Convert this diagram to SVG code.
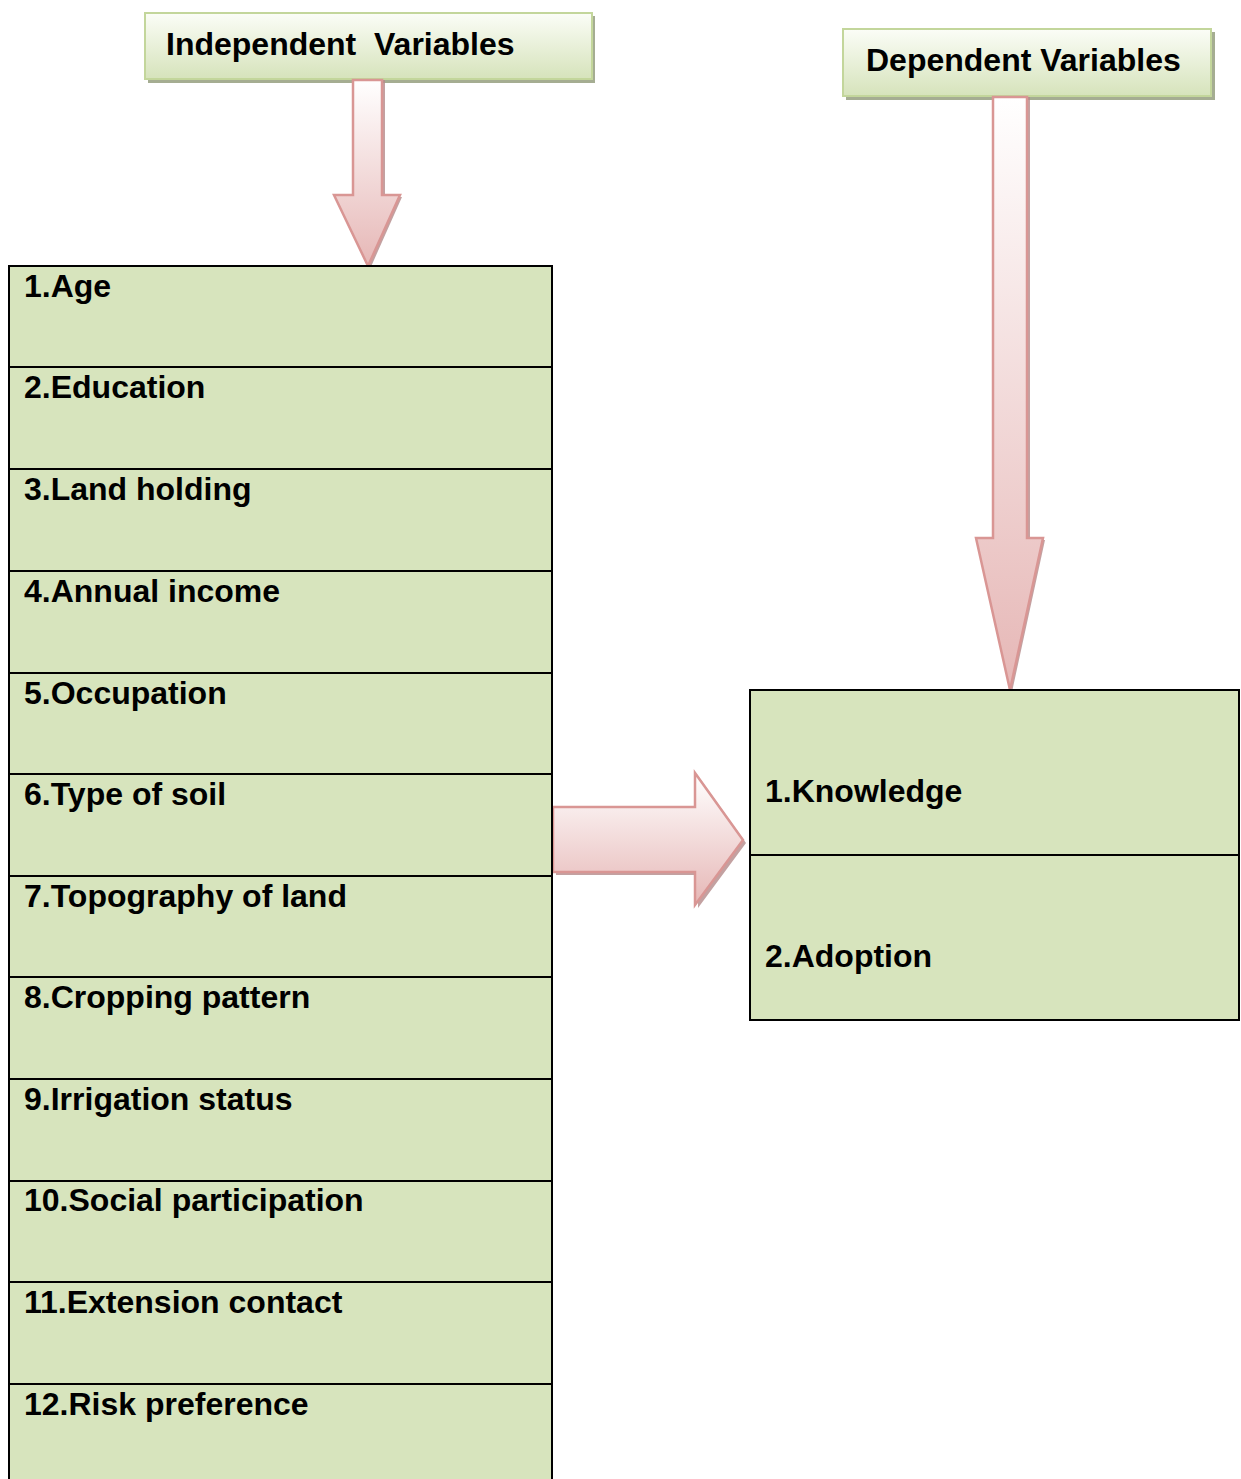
<svg xmlns="http://www.w3.org/2000/svg" width="1241" height="1479" viewBox="0 0 1241 1479">
<style>
text{font-family:"Liberation Sans",Arial,sans-serif;font-weight:bold;fill:#000;white-space:pre}
.hdr{font-size:32px}
.row{font-size:32px}
.cell{fill:#d7e4bd;stroke:#000;stroke-width:2}
.hbox{fill:url(#hg);stroke:#c3d69b;stroke-width:2}
.hsh{fill:#a5ad92}
.arr{fill:url(#ag);stroke:#d99694;stroke-width:2.5}
.arrh{fill:url(#agh);stroke:#d99694;stroke-width:2.5}
.ash{fill:#b48a89;opacity:0.8}
</style>
<defs>
<linearGradient id="hg" x1="0" y1="0" x2="0" y2="1">
<stop offset="0" stop-color="#fbfdf7"/>
<stop offset="1" stop-color="#d6e3bb"/>
</linearGradient>
<linearGradient id="ag" x1="0" y1="0" x2="0" y2="1">
<stop offset="0" stop-color="#ffffff"/>
<stop offset="1" stop-color="#e6b7b6"/>
</linearGradient>
<linearGradient id="agh" x1="0" y1="0" x2="0" y2="1">
<stop offset="0" stop-color="#ffffff"/>
<stop offset="1" stop-color="#e6b7b6"/>
</linearGradient>
</defs>
<rect width="1241" height="1479" fill="#fff"/>

<g id="independent-header">
<rect class="hsh" x="148" y="16" width="447" height="67"/>
<rect class="hbox" x="145" y="13" width="447" height="66"/>
<text class="hdr" x="166" y="55">Independent  Variables</text>
</g>

<g id="dependent-header">
<rect class="hsh" x="846" y="32" width="369" height="68"/>
<rect class="hbox" x="843" y="29" width="368" height="67"/>
<text class="hdr" x="866" y="71">Dependent Variables</text>
</g>

<g id="connectors">
<g id="arrow-independent">
<path class="ash" d="M355,80 L385,80 L385,197 L402,197 L370,269 L337,197 L355,197 Z"/>
<path class="arr" d="M353,80 L382,80 L382,195 L400,195 L368,266 L334,195 L353,195 Z"/>
</g>
<g id="arrow-dependent">
<path class="ash" d="M996,97 L1030,97 L1030,540 L1045,540 L1012,692 L978,540 L996,540 Z"/>
<path class="arr" d="M993,97 L1027,97 L1027,538 L1043,538 L1010,690 L976,538 L993,538 Z"/>
</g>
<g id="arrow-right">
<path class="ash" d="M556,810 L698,810 L698,776 L746,843 L698,908 L698,875 L556,875 Z"/>
<path class="arrh" d="M553,807 L695,807 L695,773 L743,840 L695,905 L695,872 L553,872 Z"/>
</g>
</g>

<g id="independent-list">
<g id="iv-1"><rect class="cell" x="9" y="266" width="543" height="101"/><text class="row" x="24" y="297">1.Age</text></g>
<g id="iv-2"><rect class="cell" x="9" y="367" width="543" height="102"/><text class="row" x="24" y="398">2.Education</text></g>
<g id="iv-3"><rect class="cell" x="9" y="469" width="543" height="102"/><text class="row" x="24" y="500">3.Land holding</text></g>
<g id="iv-4"><rect class="cell" x="9" y="571" width="543" height="102"/><text class="row" x="24" y="602">4.Annual income</text></g>
<g id="iv-5"><rect class="cell" x="9" y="673" width="543" height="101"/><text class="row" x="24" y="704">5.Occupation</text></g>
<g id="iv-6"><rect class="cell" x="9" y="774" width="543" height="102"/><text class="row" x="24" y="805">6.Type of soil</text></g>
<g id="iv-7"><rect class="cell" x="9" y="876" width="543" height="101"/><text class="row" x="24" y="907">7.Topography of land</text></g>
<g id="iv-8"><rect class="cell" x="9" y="977" width="543" height="102"/><text class="row" x="24" y="1008">8.Cropping pattern</text></g>
<g id="iv-9"><rect class="cell" x="9" y="1079" width="543" height="102"/><text class="row" x="24" y="1110">9.Irrigation status</text></g>
<g id="iv-10"><rect class="cell" x="9" y="1181" width="543" height="101"/><text class="row" x="24" y="1211">10.Social participation</text></g>
<g id="iv-11"><rect class="cell" x="9" y="1282" width="543" height="102"/><text class="row" x="24" y="1313">11.Extension contact</text></g>
<g id="iv-12"><rect class="cell" x="9" y="1384" width="543" height="110"/><text class="row" x="24" y="1415">12.Risk preference</text></g>
</g>

<g id="dependent-list">
<g id="dv-1"><rect class="cell" x="750" y="690" width="489" height="165"/><text class="row" x="765" y="802">1.Knowledge</text></g>
<g id="dv-2"><rect class="cell" x="750" y="855" width="489" height="165"/><text class="row" x="765" y="967">2.Adoption</text></g>
</g>
</svg>
